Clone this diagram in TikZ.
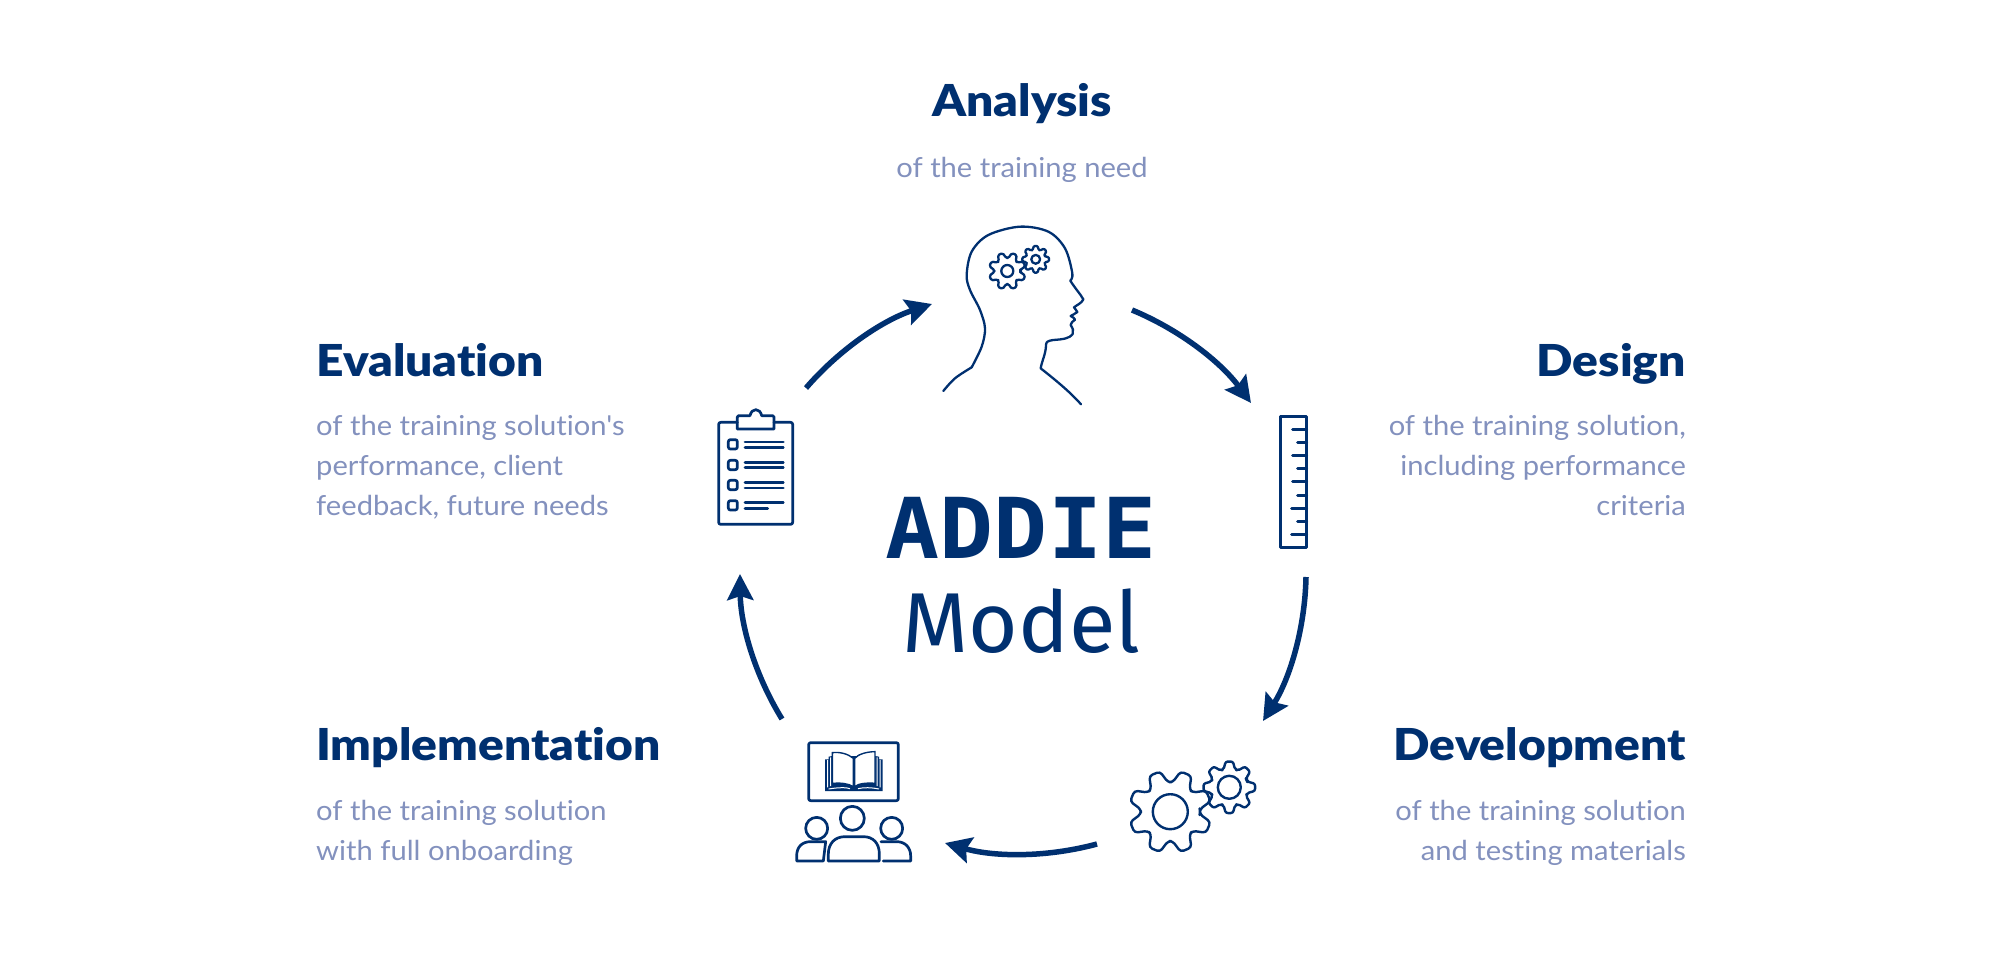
\documentclass[tikz,border=0pt]{standalone}
\usepackage{fontspec}
\usetikzlibrary{arrows.meta}
\setmainfont{Lato}
\newfontfamily\headfont{Lato Black}[FakeStretch=1.09,Ligatures=NoCommon]
\newfontfamily\subfont{Lato}[FakeStretch=1.06,Ligatures=NoCommon]
\newfontfamily\addiefont{DejaVu Sans Mono Bold}[FakeStretch=1.07]
\newfontfamily\modelfont{Fira Sans}
\definecolor{navy}{HTML}{003070}
\definecolor{soft}{HTML}{8391BE}
\tikzset{
  headtext/.style={text=navy,inner sep=0pt,font=\headfont\fontsize{44}{44}\selectfont},
  subtext/.style={text=soft,inner sep=0pt,font=\subfont\fontsize{27.5}{40}\selectfont},
  ring/.style={draw=navy,line width=5.5pt,-{Stealth[length=26pt,width=26pt,inset=4pt]},bend left=15.5,looseness=0.87},
  icon/.style={draw=navy,line width=2.7pt,line cap=round,line join=round},
  zoomed/.style={x=0.33333pt,y=-0.33333pt},
}
\newcommand{\gearshape}[7]{% cx cy outer root hole rot line width
  \begin{scope}[shift={(#1,#2)}]
  \pgfmathsetmacro{\gearcorner}{0.08*#3}
  \draw[icon,line width=#7,rounded corners=\gearcorner pt]
    ({#6-22.5:#4}) \foreach \a in {0,45,...,315} {
      -- ({#6+\a-18:#4}) -- ({#6+\a-8:#3}) -- ({#6+\a+8:#3}) -- ({#6+\a+18:#4})
    } -- cycle;
  \draw[icon,line width=#7] (0,0) circle (#5);
  \end{scope}
}
\begin{document}
\begin{tikzpicture}[x=1pt,y=-1pt]
\useasboundingbox (0,0) rectangle (2000,971);
\fill[white] (0,0) rectangle (2000,971);
% texts
\node[headtext,anchor=base] (ta) at (1022,117) {Analysis};
\node[subtext,anchor=base] (sa) at (1022,177) {of the training need};
\node[headtext,anchor=base west] (te) at (316,376) {Evaluation};
\node[subtext,anchor=base west,align=left] (se) at (316,515) {of the training solution's\\performance, client\\feedback, future needs};
\node[headtext,anchor=base east] (td) at (1686,376) {Design};
\node[subtext,anchor=base east,align=right] (sd) at (1686,515) {of the training solution,\\including performance\\criteria};
\node[headtext,anchor=base west] (ti) at (316,760) {Implementation};
\node[subtext,anchor=base west,align=left] (si) at (316,860) {of the training solution\\with full onboarding};
\node[headtext,anchor=base east] (tv) at (1686,760) {Development};
\node[subtext,anchor=base east,align=right] (sv) at (1686,860) {of the training solution\\and testing materials};
\node[anchor=base,text=navy,inner sep=0pt,font=\addiefont\fontsize{84}{84}\selectfont] (addie) at (1021,558) {ADDIE};
\node[anchor=base,text=navy,inner sep=0pt,font=\modelfont\fontsize{85}{85}\selectfont] (model) at (1021.5,652) {Model};
% ring
\coordinate (a1) at (1132,310); \coordinate (a2) at (1251,403);
\coordinate (b1) at (1306,577); \coordinate (b2) at (1263,721);
\coordinate (c1) at (1097,844); \coordinate (c2) at (945,843);
\coordinate (d1) at (782,719); \coordinate (d2) at (740,574);
\coordinate (e1) at (806,388); \coordinate (e2) at (932,304);
\draw[ring] (a1) to (a2);
\draw[ring] (b1) to (b2);
\draw[ring] (c1) to (c2);
\draw[ring] (d1) to (d2);
\draw[ring] (e1) to (e2);
% head
\begin{scope}[shift={(920,210)},zoomed,icon/.append style={line width=2.3pt}]
\draw[icon] plot[smooth,tension=0.6] coordinates {(70,543) (105,505) (155,472)};
\draw[icon] plot[smooth,tension=0.55] coordinates {(155,472) (185,410) (195,355) (180,300) (150,240) (140,195) (155,125) (205,75) (300,50) (385,65) (435,115) (457,190) (451,212)};
\draw[icon] (451,212) .. controls (465,235) and (480,250) .. (490,268) .. controls (485,280) and (470,285) .. (462,292) .. controls (465,298) and (470,300) .. (472,306) .. controls (465,312) and (458,314) .. (452,318) .. controls (458,322) and (464,324) .. (465,329) .. controls (458,335) and (452,338) .. (452,345) .. controls (458,355) and (462,362) .. (458,372) .. controls (450,385) and (430,388) .. (400,390) .. controls (385,392) and (378,395) .. (378,405) .. controls (378,430) and (365,455) .. (362,475) .. controls (400,505) and (450,545) .. (483,583);
\end{scope}
\gearshape{1007.3}{271}{18.5}{13}{6}{22.5}{2.3pt}
\gearshape{1035.7}{259.3}{13.5}{9.8}{4.4}{0}{2.3pt}
% clipboard
\begin{scope}[shift={(700,395)},zoomed]
\draw[icon,rounded corners=2pt] (112,82) -- (56,82) -- (56,388) -- (278,388) -- (278,82) -- (222,82);
\draw[icon] (116,62) -- (150,62) .. controls (155,38) and (180,38) .. (185,62) -- (218,62) -- (222,66) -- (222,102) -- (112,102) -- (112,66) -- cycle;
\foreach \y in {148,210,270,331} {
  \draw[icon,rounded corners=2pt] (85,\y-14) rectangle (112,\y+14);
}
\foreach \y in {141,157,202,218,263,279,323} {
  \draw[icon] (135,\y) -- (250,\y);
}
\draw[icon] (135,340) -- (203,340);
\end{scope}
% ruler
\begin{scope}[shift={(1260,400)},zoomed]
\draw[icon,line width=3pt] (61,48) rectangle (140,442);
\foreach \y/\x in {88/98,127/113,167/98,206/113,245/98,285/113,324/95,363/113,403/95} {
  \draw[icon,line width=3pt] (140,\y) -- (\x,\y);
}
\end{scope}
% development gears
\gearshape{1170.3}{811.7}{41.5}{29.5}{17.5}{22.5}{2.4pt}
\gearshape{1229.3}{787.3}{26}{18.7}{11.5}{0}{2.4pt}
% people and book
\begin{scope}[shift={(780,730)},zoomed]
\draw[icon,rounded corners=2pt] (86,38) rectangle (355,212);
\fill[navy] (135,88) -- (146,88) -- (146,80) -- (157,78) -- (285,78) -- (297,80) -- (297,88) -- (308,88) -- (308,183) -- (135,183) -- cycle;
\draw[white,line width=1pt] (143,90) -- (143,172) (152,82) -- (152,168) (291,82) -- (291,168) (300,90) -- (300,172) (146,177) .. controls (175,172) and (200,172) .. (210,176) (234,176) .. controls (250,172) and (275,172) .. (297,177);
\draw[draw=navy,fill=white,line width=1.4pt] (157,68) .. controls (180,65) and (205,72) .. (220,85) -- (220,170) .. controls (205,160) and (180,158) .. (157,160) -- cycle;
\draw[draw=navy,fill=white,line width=1.4pt] (285,65) .. controls (262,65) and (235,72) .. (224,85) -- (224,170) .. controls (235,160) and (262,158) .. (285,160) -- cycle;
\draw[icon] (217,265) circle (36);
\draw[icon] (145,393) -- (145,372) .. controls (145,340) and (165,320) .. (195,320) -- (250,320) .. controls (280,320) and (298,340) .. (298,372) -- (298,393) -- cycle;
\draw[icon] (110,295) circle (33);
\draw[icon] (137,335) -- (92,335) .. controls (65,335) and (50,352) .. (50,378) -- (50,393) -- (130,393) -- cycle;
\draw[icon] (335,295) circle (33);
\draw[icon] (303,335) -- (350,335) .. controls (375,335) and (392,352) .. (392,378) -- (392,393) -- (310,393);
\end{scope}
\end{tikzpicture}
\end{document}
